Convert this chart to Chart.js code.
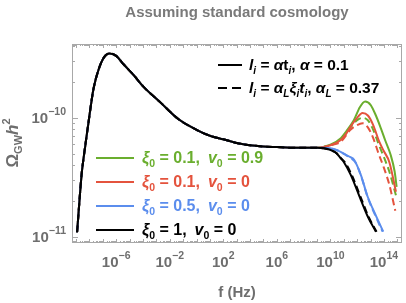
<!DOCTYPE html>
<html><head><meta charset="utf-8">
<script src="https://cdn.jsdelivr.net/npm/chart.js@4/dist/chart.umd.min.js"></script>
<style>html,body{margin:0;padding:0;background:#fff;}canvas{display:block;}</style>
</head><body>
<canvas id="c" width="406" height="303"></canvas>
<script>
// ---- data (log10 of frequency in Hz, log10 of Omega_GW h^2) ----
const BASE_LOGF = [-8.92,-8.57,-8.45,-8.07,-7.70,-7.33,-6.9,-6.5,-6.0,-5.45,-4.7,-3.95,-2.7,-1.36,0,1,2,3,4,5,6,7,8,9];
const BASE_LOGO = [-10.96,-10.46,-10.35,-10.04,-9.76,-9.60,-9.49,-9.46,-9.48,-9.55,-9.64,-9.74,-9.87,-10.01,-10.10,-10.15,-10.18,-10.21,-10.23,-10.24,-10.245,-10.25,-10.25,-10.25];

const BLACK_LOGF = [9.5,10.03,10.4,10.78,11.0,11.53,12.28,12.8,13.4];
const BLACK_LOGO = [-10.255,-10.27,-10.29,-10.34,-10.37,-10.48,-10.69,-10.83,-10.955];
const BLACK_D_LOGF = [9.5,10.1,10.5,10.85,11.1,11.6,12.35,12.85,13.45];
const BLACK_D_LOGO = [-10.255,-10.275,-10.3,-10.345,-10.375,-10.48,-10.69,-10.83,-10.955];

const BLUE_LOGF = [10.0,10.5,11.0,11.5,11.78,12.28,12.78,13.4,13.95];
const BLUE_LOGO = [-10.255,-10.27,-10.30,-10.33,-10.353,-10.48,-10.66,-10.82,-10.955];
const BLUE_D_LOGF = [10.0,10.5,11.05,11.55,11.85,12.3,12.8,13.4,13.9];
const BLUE_D_LOGO = [-10.255,-10.272,-10.305,-10.34,-10.37,-10.49,-10.67,-10.83,-10.955];

const RED_LOGF = [9.5,10.0,10.78,11.2,11.53,12.0,12.4,12.8,13.2,13.65,14.0,14.4,14.9];
const RED_LOGO = [-10.245,-10.23,-10.185,-10.13,-10.07,-10.0,-9.96,-9.98,-10.06,-10.2,-10.28,-10.37,-10.62];
const RED_D_LOGF = [9.5,10.0,10.78,11.5,12.0,12.4,12.8,13.2,13.6,14.0,14.4,14.85];
const RED_D_LOGO = [-10.245,-10.23,-10.2,-10.1,-10.06,-10.045,-10.08,-10.17,-10.3,-10.42,-10.56,-10.78];

const GREEN_LOGF = [10.0,10.78,11.2,11.75,12.2,12.6,13.0,13.4,13.78,14.1,14.5,14.8,14.95];
const GREEN_LOGO = [-10.225,-10.17,-10.11,-10.02,-9.91,-9.863,-9.89,-9.98,-10.09,-10.19,-10.31,-10.45,-10.58];
const GREEN_D_LOGF = [10.0,10.78,11.5,12.0,12.4,12.8,13.2,13.6,14.0,14.4,14.9];
const GREEN_D_LOGO = [-10.23,-10.185,-10.08,-10.02,-10.0,-10.02,-10.1,-10.22,-10.33,-10.45,-10.65];

const X_TICK_EXP = [-6,-2,2,6,10,14];
const Y_TICK_EXP = [-11,-10];
const X_RANGE_EXP = [-9.3, 15.35];
const Y_RANGE_EXP = [-11.05, -9.38];

const COLORS = {black:'#000000', blue:'#5b8ded', red:'#e4533d', green:'#6aae2e'};

function pts(lf, lo, tailF, tailO){
  const F = lf.concat(tailF), O = lo.concat(tailO);
  return F.map((f,i)=>({x:Math.pow(10,f), y:Math.pow(10,O[i])}));
}
function ds(color, tf, to, dashed){
  return {data:pts(BASE_LOGF,BASE_LOGO,tf,to), borderColor:color, borderWidth:2,
    borderDash: dashed?[7,4]:[], pointRadius:0, fill:false, cubicInterpolationMode:'monotone'};
}
const datasets = [
  ds(COLORS.black, BLACK_LOGF, BLACK_LOGO, false),
  ds(COLORS.black, BLACK_D_LOGF, BLACK_D_LOGO, true),
  ds(COLORS.blue, BLUE_LOGF, BLUE_LOGO, false),
  ds(COLORS.blue, BLUE_D_LOGF, BLUE_D_LOGO, true),
  ds(COLORS.red, RED_LOGF, RED_LOGO, false),
  ds(COLORS.red, RED_D_LOGF, RED_D_LOGO, true),
  ds(COLORS.green, GREEN_LOGF, GREEN_LOGO, false),
  ds(COLORS.green, GREEN_D_LOGF, GREEN_D_LOGO, true),
];

const FONT = '"Liberation Sans", Arial, sans-serif';
function f(size, bold, italic){ return (italic?'italic ':'')+(bold?'bold ':'')+size+'px '+FONT; }

function richWidth(ctx, parts){
  let w=0; parts.forEach(p=>{ctx.font=p.font; w+=ctx.measureText(p.t).width;}); return w;
}
function drawRich(ctx, x, y, parts, align, color){
  const w = richWidth(ctx, parts);
  let cx = align==='center'? x-w/2 : align==='right'? x-w : x;
  ctx.textBaseline='alphabetic'; ctx.textAlign='left';
  parts.forEach(p=>{ctx.font=p.font; ctx.fillStyle=p.color||color; ctx.fillText(p.t, cx, y+(p.dy||0)); cx+=ctx.measureText(p.t).width;});
}
const N = (t,s)=>({t, font:f(s||15,true,false)});
const I = (t,s)=>({t, font:f(s||15,true,true)});
const SUB = (t)=>({t, font:f(10,true,true), dy:4});
const SUBN = (t)=>({t, font:f(10.5,true,false), dy:4});

const decor = {
  id:'decor',
  beforeDatasetsDraw(chart){
    const {ctx, chartArea:a, scales:{x, y}} = chart;
    ctx.save();
    ctx.strokeStyle='#a8a8a8'; ctx.lineWidth=1;
    ctx.strokeRect(a.left+0.5, a.top+0.5, a.right-a.left-1, a.bottom-a.top-1);
    ctx.beginPath();
    for(let e=-10; e<=16; e++){
      for(let k=1;k<10;k++){
        const v = k*Math.pow(10,e);
        const px = x.getPixelForValue(v);
        if(px<a.left+1||px>a.right-1) continue;
        const L = k===1?4:2;
        ctx.moveTo(Math.round(px)+0.5, a.bottom); ctx.lineTo(Math.round(px)+0.5, a.bottom-L);
        ctx.moveTo(Math.round(px)+0.5, a.top); ctx.lineTo(Math.round(px)+0.5, a.top+L);
      }
    }
    for(let e=-12; e<=-9; e++){
      for(let k=1;k<10;k++){
        const v = k*Math.pow(10,e);
        const py = y.getPixelForValue(v);
        if(py<a.top+1||py>a.bottom-1) continue;
        const L = k===1?6:3;
        ctx.moveTo(a.left, Math.round(py)+0.5); ctx.lineTo(a.left+L, Math.round(py)+0.5);
        ctx.moveTo(a.right, Math.round(py)+0.5); ctx.lineTo(a.right-L, Math.round(py)+0.5);
      }
    }
    ctx.stroke();
    ctx.restore();
  },
  afterDraw(chart){
    const {ctx, chartArea:a, scales:{x, y}} = chart;
    ctx.save();
    const gray='#6e6e6e';
    // title
    ctx.font=f(15,true,false); ctx.fillStyle='#7a7a7a'; ctx.textAlign='center'; ctx.textBaseline='alphabetic';
    ctx.fillText('Assuming standard cosmology', 237, 17);
    // x tick labels
    X_TICK_EXP.forEach(e=>{
      const px = x.getPixelForValue(Math.pow(10,e));
      drawRich(ctx, px, 267, [{t:'10',font:f(15,true,false)},{t:(e<0?'\u2212':'')+Math.abs(e),font:f(10.5,true,false),dy:-8}], 'center', gray);
    });
    Y_TICK_EXP.forEach(e=>{
      const py = y.getPixelForValue(Math.pow(10,e));
      drawRich(ctx, 66, py+5, [{t:'10',font:f(15,true,false)},{t:'\u2212'+Math.abs(e),font:f(10.5,true,false),dy:-8}], 'right', gray);
    });
    // axis labels
    ctx.fillStyle=gray; ctx.font=f(15,true,false); ctx.textAlign='center';
    ctx.fillText('f (Hz)', 237, 297);
    ctx.save();
    ctx.translate(18, 143); ctx.rotate(-Math.PI/2);
    drawRich(ctx, 0, 0, [{t:'\u03A9',font:f(17,true,false)},{t:'GW',font:f(11,true,false),dy:4},{t:'h',font:f(17,true,true)},{t:'2',font:f(11,true,false),dy:-8}], 'center', gray);
    ctx.restore();
    // top legend
    ctx.strokeStyle='#000'; ctx.lineWidth=2;
    ctx.beginPath(); ctx.moveTo(218,65); ctx.lineTo(242,65); ctx.stroke();
    ctx.setLineDash([9,5]); ctx.beginPath(); ctx.moveTo(218,88); ctx.lineTo(242,88); ctx.stroke(); ctx.setLineDash([]);
    drawRich(ctx, 249, 70, [I('l',15.5),SUB('i'),N(' = ',15.5),I('\u03B1',15.5),N('t',15.5),SUB('i'),N(', ',15.5),I('\u03B1',15.5),N(' = 0.1',15.5)], 'left', '#000');
    drawRich(ctx, 249, 93, [I('l',15.5),SUB('i'),N(' = ',15.5),I('\u03B1',15.5),SUB('L'),I('\u03BE',15.5),SUB('i'),I('t',15.5),SUB('i'),N(', ',15.5),I('\u03B1',15.5),SUB('L'),N(' = 0.37',15.5)], 'left', '#000');
    // lower legend
    const rows = [
      [COLORS.green, 158, '0.1', '0.9'],
      [COLORS.red, 182, '0.1', '0'],
      [COLORS.blue, 206, '0.5', '0'],
      [COLORS.black, 230, '1', '0'],
    ];
    rows.forEach(r=>{
      ctx.strokeStyle=r[0]; ctx.lineWidth=2;
      ctx.beginPath(); ctx.moveTo(96,r[1]); ctx.lineTo(134,r[1]); ctx.stroke();
      drawRich(ctx, 142, r[1]+5, [I('\u03BE',16),SUBN('0'),N(' = '+r[2]+',\u2002',16),I('v',16),SUBN('0'),N(' = '+r[3],16)], 'left', r[0]);
    });
    ctx.restore();
  }
};

new Chart(document.getElementById('c'), {
  type:'line',
  data:{datasets},
  options:{
    responsive:false, animation:false, devicePixelRatio:1,
    layout:{padding:{left:72, right:4, top:44, bottom:60}},
    plugins:{legend:{display:false}, tooltip:{enabled:false}, title:{display:false}},
    scales:{
      x:{type:'logarithmic', display:false, min:Math.pow(10,X_RANGE_EXP[0]), max:Math.pow(10,X_RANGE_EXP[1])},
      y:{type:'logarithmic', display:false, min:Math.pow(10,Y_RANGE_EXP[0]), max:Math.pow(10,Y_RANGE_EXP[1])}
    }
  },
  plugins:[decor]
});
</script>
</body></html>
